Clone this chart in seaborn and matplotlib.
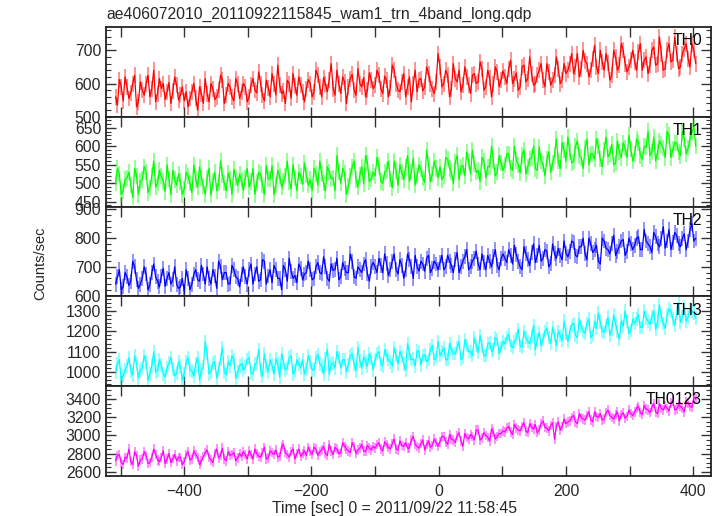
import numpy as np
import pandas as pd
import matplotlib
matplotlib.use("Agg")
import matplotlib.pyplot as plt
import seaborn as sns
from matplotlib.ticker import MultipleLocator, FuncFormatter

title = "ae406072010_20110922115845_wam1_trn_4band_long.qdp"
xlabel = "Time [sec] 0 = 2011/09/22 11:58:45"
ylabel = "Counts/sec"
names = ["TH0", "TH1", "TH2", "TH3", "TH0123"]
colors = ["#ff0000", "#00ff00", "#0000ff", "#00ffff", "#ff00ff"]

# samples at t = -508, -502, ... , 404 (even) and t = -505, -499, ... , 401 (odd)
time_even = list(range(-508, 405, 6))
time_odd = list(range(-505, 402, 6))

th0_even = [560, 612, 548, 590, 572, 625, 545, 580, 598, 560, 640, 570, 585, 552, 603, 578, 595,
            565, 548, 530, 575, 556, 590, 540, 568, 600, 552, 580, 612, 566, 590, 548, 598, 575,
            590, 560, 615, 572, 600, 548, 588, 630, 566, 595, 578, 610, 556, 592, 620, 575, 585,
            600, 575, 625, 560, 598, 612, 585, 640, 570, 605, 590, 628, 565, 600, 618, 580, 610,
            595, 625, 570, 610, 588, 640, 580, 605, 560, 620, 598, 575, 615, 590, 630, 585, 605,
            650, 600, 625, 585, 615, 640, 595, 620, 570, 630, 605, 645, 590, 618, 600, 635, 610,
            620, 645, 600, 632, 590, 655, 615, 628, 600, 640, 610, 660, 595, 625, 645, 612, 630,
            660, 630, 690, 645, 668, 620, 675, 650, 700, 640, 662, 625, 680, 655, 700, 635, 670,
            665, 695, 640, 680, 655, 710, 660, 690, 645, 720, 670, 690, 650, 705, 675, 720, 660]
th0_odd = [535, 590, 620, 555, 600, 530, 605, 565, 625, 585, 545, 615, 600, 575, 540, 620, 550,
           590, 575, 555, 600, 520, 570, 615, 545, 585, 560, 625, 540, 600, 560, 615, 555, 600,
           545, 595, 580, 635, 565, 610, 560, 600, 655, 570, 540, 600, 630, 565, 595, 545, 612,
           560, 640, 590, 618, 575, 660, 565, 598, 620, 540, 615, 580, 645, 590, 560, 632, 585,
           640, 585, 622, 560, 655, 600, 575, 630, 590, 545, 640, 612, 578, 650, 600, 570, 690,
           590, 640, 560, 660, 605, 575, 650, 595, 625, 600, 665, 580, 640, 560, 650, 590, 638,
           600, 670, 615, 580, 650, 605, 680, 595, 625, 660, 590, 635, 610, 680, 600, 660, 640,
           690, 650, 620, 700, 660, 640, 715, 630, 665, 690, 610, 700, 640, 720, 660, 650, 700,
           640, 720, 670, 630, 700, 655, 740, 640, 700, 665, 740, 645, 690, 720, 650, 700]

th1_even = [500, 525, 480, 515, 495, 540, 470, 510, 530, 488, 560, 500, 520, 478, 512, 535, 495,
            505, 485, 520, 475, 510, 545, 492, 515, 468, 530, 500, 522, 480, 512, 538, 495, 508,
            515, 490, 540, 502, 525, 470, 512, 548, 495, 520, 505, 560, 485, 515, 530, 498, 522,
            510, 540, 495, 525, 480, 530, 515, 575, 500, 528, 492, 545, 510, 522, 498, 555, 512,
            520, 548, 500, 535, 512, 560, 495, 530, 545, 505, 568, 520, 538, 502, 550, 525, 540,
            545, 520, 565, 530, 558, 510, 548, 585, 525, 552, 535, 570, 515, 545, 560, 530, 555,
            550, 580, 535, 562, 528, 590, 545, 570, 540, 598, 552, 565, 530, 575, 560, 610, 560,
            585, 560, 615, 570, 595, 550, 580, 620, 565, 590, 572, 605, 555, 585, 610, 570, 592,
            580, 610, 565, 598, 575, 625, 585, 605, 570, 630, 592, 610, 575, 620, 595, 640, 600]
th1_odd = [540, 470, 510, 530, 462, 520, 505, 545, 475, 520, 490, 535, 505, 550, 470, 510, 525,
           470, 530, 500, 550, 490, 515, 470, 540, 505, 480, 560, 500, 528, 470, 515, 525, 480,
           540, 505, 470, 530, 495, 548, 512, 470, 535, 490, 520, 505, 550, 480, 520, 555, 495,
           480, 525, 560, 500, 545, 512, 480, 530, 540, 470, 520, 560, 490, 545, 575, 505, 530,
           570, 505, 530, 560, 488, 535, 550, 510, 575, 530, 495, 550, 515, 590, 505, 560, 515,
           510, 570, 540, 500, 575, 545, 520, 560, 590, 530, 505, 560, 545, 600, 520, 575, 535,
           580, 540, 600, 550, 575, 525, 565, 600, 535, 560, 520, 585, 555, 620, 540, 590, 625,
           555, 600, 575, 540, 620, 580, 565, 600, 545, 625, 580, 550, 615, 570, 595, 630, 560,
           620, 575, 600, 640, 585, 560, 615, 595, 640, 570, 610, 585, 640, 580, 620, 650]

th2_even = [640, 690, 630, 665, 650, 700, 625, 660, 675, 638, 710, 650, 668, 632, 680, 655, 640,
            630, 615, 660, 640, 690, 650, 675, 700, 640, 668, 720, 655, 680, 642, 690, 660, 672,
            665, 690, 640, 700, 655, 720, 668, 645, 690, 660, 705, 650, 685, 670, 710, 655, 680,
            690, 660, 715, 675, 700, 650, 688, 730, 665, 695, 680, 720, 660, 690, 710, 675, 700,
            700, 730, 680, 712, 690, 745, 675, 705, 690, 725, 660, 700, 720, 685, 740, 695, 710,
            715, 690, 740, 705, 725, 680, 720, 760, 700, 730, 710, 745, 690, 720, 735, 705, 728,
            730, 760, 710, 742, 700, 770, 725, 750, 715, 775, 730, 755, 712, 745, 765, 725, 748,
            755, 785, 735, 770, 745, 800, 750, 775, 710, 790, 760, 780, 740, 772, 795, 755, 780,
            775, 805, 760, 790, 770, 820, 780, 800, 765, 830, 785, 810, 770, 815, 790, 850, 800]
th2_odd = [665, 620, 680, 635, 720, 655, 640, 700, 620, 680, 665, 630, 695, 660, 640, 700, 625,
           660, 690, 620, 675, 655, 705, 640, 660, 690, 625, 700, 680, 640, 705, 665, 630, 700,
           640, 710, 675, 650, 725, 640, 690, 705, 660, 620, 690, 730, 660, 645, 695, 675, 720,
           655, 700, 680, 735, 660, 710, 690, 655, 715, 680, 745, 665, 700, 680, 725, 650, 715,
           680, 705, 745, 670, 720, 690, 725, 660, 745, 700, 740, 685, 710, 730, 680, 720, 690,
           740, 700, 720, 680, 750, 700, 735, 690, 720, 755, 690, 715, 740, 700, 760, 690, 745,
           715, 740, 775, 720, 690, 745, 705, 780, 740, 720, 760, 700, 780, 730, 740, 790, 735,
           790, 740, 770, 800, 725, 780, 760, 720, 800, 765, 745, 810, 755, 790, 740, 800, 760,
           800, 760, 830, 780, 750, 805, 770, 840, 790, 760, 820, 780, 800, 760, 830, 790]

th3_even = [1000, 1060, 980, 1030, 1005, 1080, 970, 1020, 1050, 990, 1100, 1010, 1035, 975, 1045, 1015, 995,
            1030, 990, 1070, 1005, 1040, 960, 1025, 1090, 1000, 1050, 1015, 1120, 985, 1030, 1060, 1000, 1040,
            1025, 1070, 990, 1045, 1010, 1090, 1000, 1035, 1065, 975, 1050, 1020, 1080, 1005, 1040, 1060, 1015,
            1050, 1010, 1085, 1030, 1065, 990, 1045, 1100, 1020, 1060, 1035, 1090, 1005, 1055, 1075, 1030, 1065,
            1060, 1100, 1030, 1080, 1050, 1120, 1040, 1075, 1010, 1090, 1065, 1105, 1035, 1085, 1060, 1130, 1070,
            1080, 1120, 1060, 1110, 1090, 1150, 1070, 1130, 1100, 1170, 1095, 1125, 1080, 1145, 1110, 1160, 1120,
            1140, 1185, 1120, 1165, 1130, 1200, 1150, 1175, 1110, 1195, 1160, 1215, 1140, 1180, 1200, 1155, 1190,
            1200, 1240, 1170, 1225, 1190, 1260, 1180, 1215, 1245, 1195, 1270, 1210, 1235, 1160, 1225, 1250, 1205,
            1240, 1280, 1220, 1265, 1235, 1300, 1250, 1275, 1215, 1310, 1260, 1290, 1245, 1320, 1270, 1300, 1265]
th3_odd = [1040, 960, 1010, 1070, 985, 1040, 1010, 1080, 960, 1030, 1000, 1060, 990, 1020, 1070, 980, 1050,
           960, 1050, 1010, 980, 1070, 1010, 1150, 990, 1045, 970, 1060, 1000, 1050, 1080, 970, 1030, 1010,
           1060, 995, 1040, 1110, 980, 1030, 1060, 990, 1040, 1090, 1010, 1070, 990, 1060, 1020, 990, 1080,
           1010, 1070, 1040, 990, 1110, 1040, 1020, 1070, 1060, 1000, 1080, 1040, 1120, 1020, 1050, 1090, 1010,
           1090, 1040, 1110, 1060, 1030, 1080, 1100, 1040, 1140, 1060, 1030, 1100, 1080, 1050, 1110, 1060, 1150,
           1100, 1060, 1140, 1090, 1120, 1060, 1160, 1100, 1080, 1130, 1180, 1080, 1140, 1100, 1170, 1090, 1150,
           1170, 1130, 1150, 1210, 1120, 1170, 1140, 1230, 1160, 1130, 1200, 1170, 1220, 1130, 1180, 1250, 1150,
           1230, 1180, 1260, 1200, 1240, 1170, 1250, 1290, 1200, 1230, 1180, 1280, 1200, 1250, 1300, 1190, 1260,
           1260, 1220, 1300, 1250, 1270, 1210, 1330, 1240, 1280, 1300, 1230, 1340, 1270, 1250, 1310, 1290]

th0123_even = [2720, 2790, 2680, 2750, 2710, 2820, 2660, 2740, 2780, 2700, 2850, 2730, 2760, 2690, 2800, 2745, 2720,
               2760, 2710, 2820, 2740, 2790, 2680, 2770, 2840, 2730, 2800, 2750, 2860, 2720, 2780, 2810, 2750, 2770,
               2790, 2830, 2740, 2800, 2760, 2870, 2750, 2810, 2840, 2770, 2900, 2790, 2820, 2740, 2850, 2800, 2780,
               2820, 2870, 2780, 2840, 2800, 2900, 2790, 2850, 2810, 2880, 2830, 2920, 2800, 2860, 2830, 2890, 2840,
               2860, 2920, 2830, 2900, 2850, 2960, 2840, 2890, 2920, 2860, 2990, 2880, 2910, 2840, 2940, 2890, 2920,
               2930, 2990, 2900, 2960, 2920, 3030, 2880, 2980, 3010, 2950, 3060, 2970, 3000, 2940, 3040, 2990, 3020,
               3040, 3100, 3010, 3080, 3050, 3140, 3030, 3090, 3120, 3060, 3160, 3080, 3110, 2960, 3150, 3100, 3130,
               3160, 3220, 3130, 3200, 3170, 3260, 3150, 3210, 3240, 3180, 3280, 3200, 3230, 3160, 3250, 3210, 3240,
               3260, 3320, 3230, 3290, 3250, 3350, 3240, 3300, 3330, 3270, 3380, 3290, 3320, 3260, 3360, 3310, 3400]
th0123_odd = [2780, 2700, 2760, 2850, 2680, 2780, 2730, 2820, 2690, 2760, 2790, 2710, 2830, 2740, 2700, 2790, 2760,
              2680, 2790, 2730, 2830, 2760, 2720, 2810, 2760, 2700, 2850, 2780, 2740, 2820, 2790, 2720, 2800, 2820,
              2740, 2790, 2850, 2770, 2810, 2740, 2830, 2790, 2760, 2880, 2810, 2760, 2850, 2800, 2770, 2830, 2870,
              2790, 2850, 2820, 2880, 2780, 2830, 2870, 2800, 2920, 2850, 2810, 2880, 2840, 2900, 2820, 2860, 2880,
              2900, 2850, 2930, 2870, 2910, 2850, 2940, 2880, 2860, 2950, 2900, 2860, 2950, 2900, 2870, 2960, 2880,
              2990, 2930, 3010, 2950, 3000, 2940, 3020, 2960, 2990, 3060, 2950, 3030, 2980, 3070, 2960, 3020, 3050,
              3080, 3040, 3120, 3060, 3100, 3050, 3130, 3070, 3030, 3130, 3090, 3050, 3140, 3100, 3060, 3180, 3150,
              3200, 3150, 3240, 3180, 3220, 3170, 3260, 3200, 3170, 3250, 3220, 3180, 3260, 3230, 3190, 3280, 3220,
              3300, 3250, 3330, 3280, 3310, 3260, 3350, 3280, 3300, 3360, 3280, 3340, 3300, 3370, 3320, 3420]

errors = [24, 22, 26, 33, 52]
series = [(th0_even, th0_odd), (th1_even, th1_odd), (th2_even, th2_odd),
          (th3_even, th3_odd), (th0123_even, th0123_odd)]

ylims = [(500, 770), (437, 680), (597, 910), (930, 1372), (2553, 3543)]
ymajor = [100, 50, 100, 100, 200]
yminor = [20, 10, 20, 20, 50]

FS = 11.3
sns.set_style("ticks")
plt.rcParams['font.family'] = ['Liberation Sans', 'DejaVu Sans']

fig = plt.figure(figsize=(7.19, 5.16), dpi=100)
gs = fig.add_gridspec(5, 1, left=106/719, right=711/719, bottom=1-476/516, top=1-27/516, hspace=0)
axes = [fig.add_subplot(gs[i]) for i in range(5)]

for i, ax in enumerate(axes):
    ev, od = series[i]
    df = pd.concat([pd.DataFrame({"t": time_even, "v": ev}),
                    pd.DataFrame({"t": time_odd, "v": od})]).sort_values("t").reset_index(drop=True)
    ax.errorbar(df["t"], df["v"], yerr=errors[i], fmt="none", ecolor=colors[i],
                alpha=0.5, elinewidth=1.2, capsize=0, zorder=1)
    sns.lineplot(data=df, x="t", y="v", ax=ax, color=colors[i], lw=0.9,
                 estimator=None, sort=False, zorder=2)
    ax.set_xlim(-523, 428)
    ax.set_ylim(*ylims[i])
    ax.set_xlabel("")
    ax.set_ylabel("")
    ax.xaxis.set_major_locator(MultipleLocator(100))
    ax.yaxis.set_major_locator(MultipleLocator(ymajor[i]))
    ax.yaxis.set_minor_locator(MultipleLocator(yminor[i]))
    ax.tick_params(which="major", direction="in", length=7, width=1.0,
                   top=True, bottom=True, left=True, right=True, labelsize=FS, color="#333333")
    ax.tick_params(which="minor", direction="in", length=3.5, width=0.8,
                   left=True, right=True, color="#333333")
    for s in ax.spines.values():
        s.set_linewidth(1.3)
        s.set_color("#222222")
    if i < 4:
        ax.tick_params(labelbottom=False)
    else:
        ax.xaxis.set_major_formatter(FuncFormatter(
            lambda v, p: (("\u2212%d" % abs(v)) if v < 0 else "%d" % v) if int(round(v)) % 200 == 0 else ""))
        ax.tick_params(axis="x", pad=6)
    ax.text(0.985, 0.93, names[i], transform=ax.transAxes, ha="right", va="top",
            fontsize=FS, color="black")

fig.text(106/719, 1-14/516, title, ha="left", va="center", fontsize=FS)
fig.text(40/719, 1-263/516, ylabel, rotation=90, ha="center", va="center", fontsize=10.5)
fig.text(395/719, 1-509/516, xlabel, ha="center", va="center", fontsize=FS)

fig.savefig("out.png", dpi=100)
